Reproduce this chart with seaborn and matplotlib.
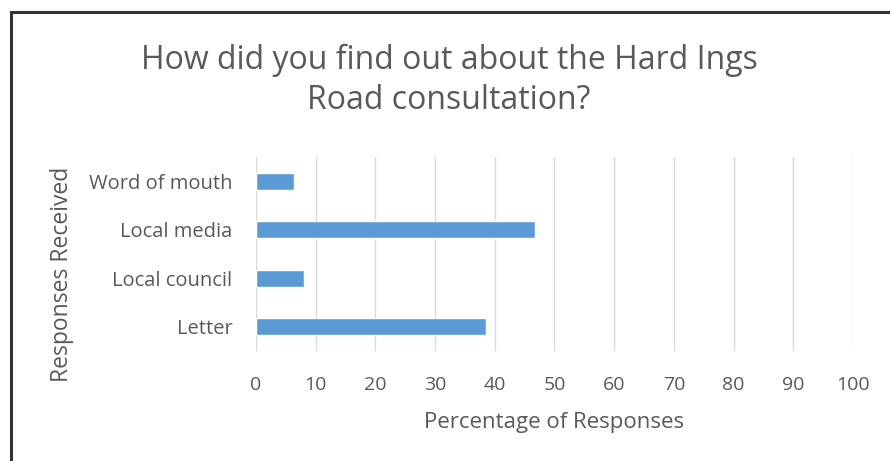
import matplotlib
matplotlib.use("Agg")
import matplotlib.pyplot as plt
import seaborn as sns
import pandas as pd
from matplotlib.patches import Rectangle

categories = ["Word of mouth", "Local media", "Local council", "Letter"]
values = [6.4, 46.7, 8.0, 38.5]
xticks = [0, 10, 20, 30, 40, 50, 60, 70, 80, 90, 100]

sns.set_theme(style="white")
plt.rcParams['font.family'] = ['Open Sans', 'DejaVu Sans']

df = pd.DataFrame({"Category": categories, "Value": values})

fig = plt.figure(figsize=(8.9, 4.61), dpi=100)
ax = fig.add_axes([0.2876, 0.2386, 0.6708, 0.4208])

sns.barplot(data=df, y="Category", x="Value", orient="h", color="#5b9bd5",
            width=0.35, saturation=1, ax=ax, order=categories)

ax.set_xlim(0, 100)
ax.set_xticks(xticks)
ax.set_xticklabels([str(t) for t in xticks])
ax.grid(axis="x", color="#d9d9d9", linewidth=1)
ax.set_axisbelow(True)
for s in ax.spines.values():
    s.set_visible(False)
ax.tick_params(axis="x", length=0, pad=18, labelsize=14, labelcolor="#595959")
ax.tick_params(axis="y", length=0, pad=17, labelsize=14.5, labelcolor="#595959")

ax.set_xlabel("Percentage of Responses", fontsize=16, color="#595959")
ax.xaxis.set_label_coords(0.5, -0.37)
ax.set_ylabel("Responses Received", fontsize=16.5, color="#595959")
ax.yaxis.set_label_coords(-0.325, 0.397)
ax.yaxis.label.set_va("center")
ax.xaxis.label.set_va("center")

fig.text(0.5045, 0.826, "How did you find out about the Hard Ings\nRoad consultation?",
         ha="center", va="center", fontsize=23, color="#595959",
         linespacing=1.3)

fig.patches.append(Rectangle((10.5/890, -0.1), 1.2, 1 - 12.5/461 + 0.1,
                             transform=fig.transFigure, fill=False,
                             edgecolor="#333333", linewidth=2.2))

fig.savefig("out.png", dpi=100)
